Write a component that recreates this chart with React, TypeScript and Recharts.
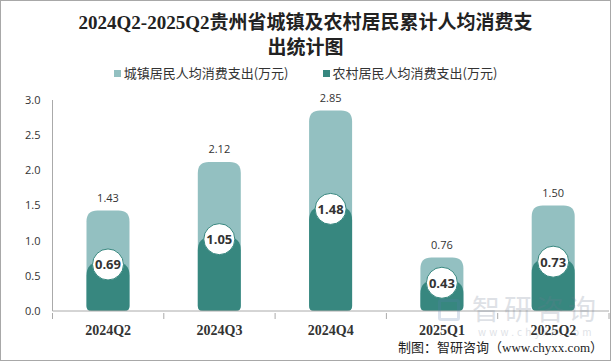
import React from "react";
import { ComposedChart, Bar, XAxis, YAxis, LabelList } from "recharts";

const categories = ["2024Q2", "2024Q3", "2024Q4", "2025Q1", "2025Q2"];
const urbanValues = [1.43, 2.12, 2.85, 0.76, 1.5];
const ruralValues = [0.69, 1.05, 1.48, 0.43, 0.73];
const yTicks = [0, 0.5, 1.0, 1.5, 2.0, 2.5, 3.0];
const urbanName = "城镇居民人均消费支出(万元)";
const ruralName = "农村居民人均消费支出(万元)";

const URBAN = "#93c0c1";
const RURAL = "#37877f";
const W = 611;
const H = 361;
const M = { top: 100, right: 2, bottom: 20, left: 0 };
const YW = 52.5;
const BAR = 43;
const BAND = (W - M.left - M.right - YW) / categories.length;

const data = categories.map((c, i) => ({ cat: c, urban: urbanValues[i], rural: ruralValues[i] }));

function roundPath(x: number, y: number, w: number, h: number, rt: number, rb: number) {
  rt = Math.min(rt, w / 2, h / 2);
  rb = Math.min(rb, w / 2, h / 2);
  return `M${x},${y + rt} Q${x},${y} ${x + rt},${y} L${x + w - rt},${y} Q${x + w},${y} ${x + w},${y + rt} L${x + w},${y + h - rb} Q${x + w},${y + h} ${x + w - rb},${y + h} L${x + rb},${y + h} Q${x},${y + h} ${x},${y + h - rb} Z`;
}

const UrbanShape = (p: any) => {
  if (!p.height) return null;
  return <path d={roundPath(p.x, p.y, p.width, p.height, 11, 5)} fill={URBAN} />;
};
const RuralShape = (p: any) => {
  if (!p.height) return null;
  return <path d={roundPath(p.x, p.y, p.width, p.height, 13, 5)} fill={RURAL} />;
};

const UrbanLabel = (p: any) => (
  <text x={p.x + p.width / 2} y={p.y - 13} textAnchor="middle" dominantBaseline="central" fontSize={11} fill="#333" fontFamily="'Open Sans', 'DejaVu Sans', sans-serif">
    {Number(p.value).toFixed(2)}
  </text>
);

const RuralLabel = (p: any) => {
  const cx = p.x + p.width / 2;
  const cy = p.y + 2;
  return (
    <g>
      <circle cx={cx} cy={cy} r={15.5} fill="#fff" stroke={RURAL} strokeWidth={1} />
      <text x={cx} y={cy} textAnchor="middle" dominantBaseline="central" fontSize={13} fontWeight="bold" fill="#333" fontFamily="'Open Sans', 'DejaVu Sans', sans-serif">
        {Number(p.value).toFixed(2)}
      </text>
    </g>
  );
};

const XTick = (p: any) => {
  const { x, y, payload, index } = p;
  const last = index === categories.length - 1;
  return (
    <g>
      <line x1={x - BAND / 2} y1={y} x2={x - BAND / 2} y2={y + 6} stroke="#aaa" />
      {last && <line x1={x + BAND / 2} y1={y} x2={x + BAND / 2} y2={y + 6} stroke="#aaa" />}
      <text x={x} y={y + 22} textAnchor="middle" fontSize={14} fontWeight="bold" fill="#333" fontFamily="'Liberation Serif', 'DejaVu Serif', serif">
        {payload.value}
      </text>
    </g>
  );
};

export default function App() {
  return (
    <div style={{ position: "absolute", left: 0, top: 0, width: W, height: H, background: "#fff", overflow: "hidden" }}>
      <div style={{ position: "absolute", left: 0, top: 0, width: W - 2, height: H - 2, border: "1px solid #a8a8a8", pointerEvents: "none", zIndex: 5 }} />
      <div style={{ position: "absolute", left: 0, top: 10, width: W, textAlign: "center", fontFamily: "'Liberation Serif', 'Noto Sans CJK SC', serif", fontWeight: "bold", fontSize: 19, lineHeight: "25px", color: "#222" }}>
        <div>2024Q2-2025Q2贵州省城镇及农村居民累计人均消费支</div>
        <div>出统计图</div>
      </div>
      <div style={{ position: "absolute", left: 0, top: 65, width: W, display: "flex", justifyContent: "center", fontFamily: "'Noto Sans CJK SC', sans-serif", fontSize: 13, color: "#333", lineHeight: "16px" }}>
        <div style={{ display: "flex", alignItems: "center", marginRight: 34 }}>
          <span style={{ width: 7, height: 7, background: URBAN, display: "inline-block", marginRight: 3 }} />
          {urbanName}
        </div>
        <div style={{ display: "flex", alignItems: "center" }}>
          <span style={{ width: 7, height: 7, background: RURAL, display: "inline-block", marginRight: 3 }} />
          {ruralName}
        </div>
      </div>
      <div style={{ position: "absolute", left: 0, top: 0 }}>
        <ComposedChart width={W} height={H} data={data} margin={M} barGap={-BAR}>
          <XAxis dataKey="cat" axisLine={{ stroke: "#aaa" }} tickLine={false} tickSize={0} tick={<XTick />} height={30} interval={0} />
          <YAxis width={YW} domain={[0, 3]} ticks={yTicks} tickFormatter={(v: number) => v.toFixed(1)} axisLine={{ stroke: "#aaa" }} tickLine={false} tickSize={0} tickMargin={12} tick={{ fontSize: 11, fill: "#333", fontFamily: "'Open Sans', 'DejaVu Sans', sans-serif" }} interval={0} />
          <Bar dataKey="urban" name={urbanName} barSize={BAR} shape={<UrbanShape />} isAnimationActive={false}>
            <LabelList dataKey="urban" content={<UrbanLabel />} />
          </Bar>
          <Bar dataKey="rural" name={ruralName} barSize={BAR} shape={<RuralShape />} isAnimationActive={false}>
            <LabelList dataKey="rural" content={<RuralLabel />} />
          </Bar>
        </ComposedChart>
      </div>
      <div style={{ position: "absolute", left: 438, top: 296, width: 170, height: 44, opacity: 0.22, pointerEvents: "none", fontFamily: "'Noto Sans CJK SC', sans-serif", color: "#6b7a90" }}>
        <div style={{ position: "absolute", left: 0, top: 3, width: 22, height: 22, border: "3px solid #5a7fb0", borderRadius: 3, boxSizing: "border-box" }} />
        <div style={{ position: "absolute", left: 34, top: -4, fontSize: 28, letterSpacing: 4, lineHeight: "32px" }}>智研咨询</div>
        <div style={{ position: "absolute", left: 40, top: 29, fontSize: 10, letterSpacing: 3.2, lineHeight: "14px" }}>www.chyxx.com</div>
      </div>
      <div style={{ position: "absolute", right: 8, top: 339, fontFamily: "'Liberation Serif', 'Noto Sans CJK SC', serif", fontSize: 13, color: "#222", lineHeight: "18px", whiteSpace: "nowrap" }}>
        制图：智研咨询（www.chyxx.com）
      </div>
    </div>
  );
}
